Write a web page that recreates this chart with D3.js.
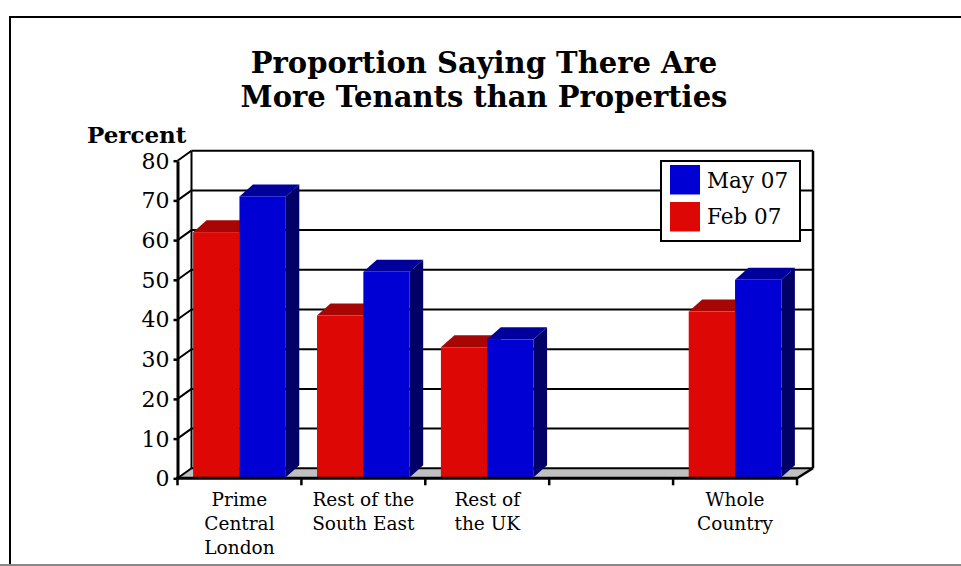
<!DOCTYPE html>
<html>
<head>
<meta charset="utf-8">
<script src="https://cdn.jsdelivr.net/npm/d3@7/dist/d3.min.js"></script>
<style>
  html, body { margin: 0; padding: 0; background: #fff; }
  svg { display: block; }
  text { font-family: "DejaVu Serif", "Liberation Serif", serif; fill: #000; }
</style>
</head>
<body>
<svg id="chart" width="961" height="566"></svg>
<script>
// Survey results: share of agents reporting more tenants than properties
const categories = ["Prime Central London", "Rest of the South East", "Rest of the UK", "", "Whole Country"];
const categoryLines = [["Prime", "Central", "London"], ["Rest of the", "South East"], ["Rest of", "the UK"], [], ["Whole", "Country"]];
const seriesNames = ["Feb 07", "May 07"];
const feb07 = [62, 41, 33, null, 42];
const may07 = [71, 52, 35, null, 50];
const yTicks = [0, 10, 20, 30, 40, 50, 60, 70, 80];
const titleLines = ["Proportion Saying There Are", "More Tenants than Properties"];

const svg = d3.select("#chart");

// Chart frame
svg.append("rect").attr("x", 10).attr("y", 17).attr("width", 1000).attr("height", 560)
  .attr("fill", "none").attr("stroke", "#000").attr("stroke-width", 2);
svg.append("line").attr("x1", 0).attr("x2", 961).attr("y1", 565).attr("y2", 565)
  .attr("stroke", "#888").attr("stroke-width", 2);

// Title
svg.append("text").attr("x", 484).attr("text-anchor", "middle")
  .style("font-weight", "bold").style("font-size", "29px")
  .selectAll("tspan").data(titleLines).join("tspan")
  .attr("x", 484).attr("y", (d, i) => 73 + i * 34).text(d => d);

// Geometry of the 3D box
const wallDx = 14, wallDy = -10;   // depth offset of the back wall
const barDx = 13.5, barDy = -12;   // depth offset of the bar tops/sides
const x = d3.scaleBand().domain(d3.range(categories.length)).range([177.5, 797]);
const xs = d3.scaleBand().domain(seriesNames)
  .range([x.bandwidth() * 0.126, x.bandwidth() * 0.874]);
const y = d3.scaleLinear().domain([0, 80]).range([478.3, 160.7]);

const x0 = x.range()[0], x1 = x.range()[1];
const yTop = y(80), yBase = y(0);

const g = svg.append("g");

// Floor
g.append("path")
  .attr("d", `M${x0},${yBase}L${x1},${yBase}L${x1 + wallDx + 2},${yBase + wallDy}L${x0 + wallDx},${yBase + wallDy}Z`)
  .attr("fill", "#c0c0c0").attr("stroke", "none");

// Back wall gridlines
g.selectAll(".grid").data(yTicks).join("line")
  .attr("x1", x0 + wallDx).attr("x2", x1 + wallDx + 2)
  .attr("y1", d => y(d) + wallDy).attr("y2", d => y(d) + wallDy)
  .attr("stroke", "#000").attr("stroke-width", 2);

// Left wall gridlines
g.selectAll(".lgrid").data(yTicks).join("line")
  .attr("x1", x0).attr("x2", x0 + wallDx)
  .attr("y1", d => y(d)).attr("y2", d => y(d) + wallDy)
  .attr("stroke", "#000").attr("stroke-width", 2);

// Wall edges
g.append("line").attr("x1", x0 + wallDx).attr("x2", x0 + wallDx)
  .attr("y1", yTop + wallDy).attr("y2", yBase + wallDy).attr("stroke", "#000").attr("stroke-width", 2);
g.append("line").attr("x1", x1 + wallDx + 2).attr("x2", x1 + wallDx + 2)
  .attr("y1", yTop + wallDy).attr("y2", yBase + wallDy).attr("stroke", "#000").attr("stroke-width", 2.5);
g.append("line").attr("x1", x1).attr("x2", x1 + wallDx + 2)
  .attr("y1", yBase).attr("y2", yBase + wallDy).attr("stroke", "#000").attr("stroke-width", 2.5);

// Bars
const colors = {
  "Feb 07": { front: "#dd0806", top: "#a80505", side: "#6e0303" },
  "May 07": { front: "#0000d4", top: "#00009c", side: "#000066" }
};
const rows = [];
categories.forEach((c, i) => {
  [["Feb 07", feb07[i]], ["May 07", may07[i]]].forEach(([s, v]) => {
    if (v != null) rows.push({ i, s, v });
  });
});
const bars = g.selectAll(".bar").data(rows).join("g").attr("class", "bar");
bars.each(function (d) {
  const sel = d3.select(this);
  const bx0 = x(d.i) + xs(d.s), bx1 = bx0 + xs.bandwidth();
  const by0 = y(d.v), by1 = yBase - 1;
  const c = colors[d.s];
  sel.append("path")
    .attr("d", `M${bx1},${by0}L${bx1 + barDx},${by0 + barDy}L${bx1 + barDx},${by1 + barDy}L${bx1},${by1}Z`)
    .attr("fill", c.side);
  sel.append("path")
    .attr("d", `M${bx0},${by0}L${bx1},${by0}L${bx1 + barDx},${by0 + barDy}L${bx0 + barDx},${by0 + barDy}Z`)
    .attr("fill", c.top);
  sel.append("rect").attr("x", bx0).attr("y", by0).attr("width", bx1 - bx0).attr("height", by1 - by0)
    .attr("fill", c.front);
});

// Value axis
const yAxis = d3.axisLeft(y).tickValues(yTicks).tickSize(4).tickPadding(4).tickSizeOuter(0);
const ya = svg.append("g").attr("transform", `translate(${x0},0)`).call(yAxis);
ya.select(".domain").attr("stroke", "#000").attr("stroke-width", 3);
ya.selectAll(".tick line").attr("stroke", "#000").attr("stroke-width", 2.5);
ya.selectAll(".tick text").style("font-family", "DejaVu Serif, serif").style("font-size", "22px")
  .attr("fill", "#000").attr("dy", "0.34em");

svg.append("text").attr("x", 87).attr("y", 143)
  .style("font-weight", "bold").style("font-size", "23px").text("Percent");

// Category axis
svg.append("line").attr("x1", x0 - 1.5).attr("x2", x1).attr("y1", yBase).attr("y2", yBase)
  .attr("stroke", "#000").attr("stroke-width", 3);
const bounds = d3.range(categories.length).map(i => x(i)).concat([x1]);
svg.selectAll(".xtick").data(bounds).join("line")
  .attr("x1", d => d).attr("x2", d => d).attr("y1", yBase).attr("y2", yBase + 7)
  .attr("stroke", "#000").attr("stroke-width", 2.5);
svg.selectAll(".xlabel").data(categoryLines).join("text")
  .attr("text-anchor", "middle").style("font-size", "18.5px")
  .each(function (lines, i) {
    d3.select(this).selectAll("tspan").data(lines).join("tspan")
      .attr("x", x(i) + x.bandwidth() / 2).attr("y", (d, k) => 506 + k * 24).text(d => d);
  });

// Legend
const lg = svg.append("g");
lg.append("rect").attr("x", 661).attr("y", 161).attr("width", 139).attr("height", 80)
  .attr("fill", "#fff").attr("stroke", "#000").attr("stroke-width", 2);
const legendOrder = ["May 07", "Feb 07"];
legendOrder.forEach((s, k) => {
  lg.append("rect").attr("x", 670).attr("y", 165 + k * 37).attr("width", 30).attr("height", 29.5)
    .attr("fill", colors[s].front);
  lg.append("text").attr("x", 707).attr("y", 187.5 + k * 36.5).style("font-size", "21.5px").text(s);
});
</script>
</body>
</html>
